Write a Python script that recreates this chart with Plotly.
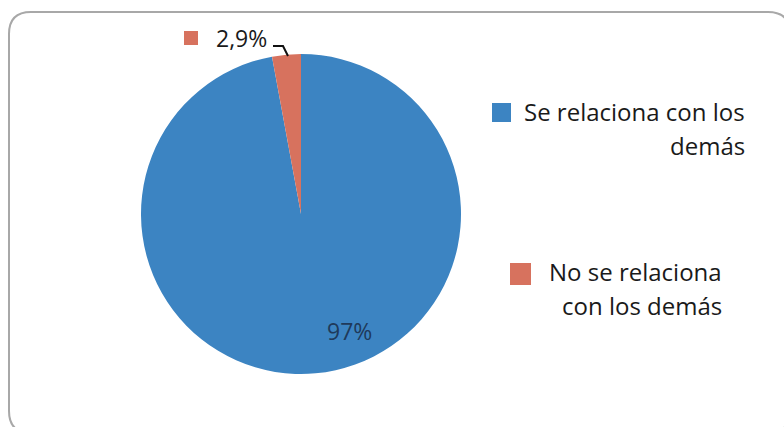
import plotly.graph_objects as go

W, H = 784, 427

categories = ["Se relaciona con los demás", "No se relaciona con los demás"]
values = [97.1, 2.9]
value_labels = ["97%", "2,9%"]
legend_lines = [["Se relaciona con los", "demás"], ["No se relaciona", "con los demás"]]
colors = ["#3C84C2", "#D7725E"]

def px(x):
    return x / W

def py(y):
    return 1 - y / H

FONT = "Open Sans"
TXT = "#1a1a1a"
FS_LEG = 24
FS_LAB = 23

fig = go.Figure()
fig.add_trace(go.Pie(
    labels=categories,
    values=values,
    marker=dict(colors=colors, line=dict(width=0)),
    sort=False,
    direction="clockwise",
    rotation=0,
    textinfo="none",
    hoverinfo="label+value",
    showlegend=False,
    domain=dict(x=[px(301 - 160), px(301 + 160)], y=[py(214 + 160), py(214 - 160)]),
))

annotations = [
    dict(x=px(349), y=py(331), text=value_labels[0], showarrow=False,
         font=dict(family=FONT, size=FS_LAB, color="#1f3a5a"), xanchor="center", yanchor="middle"),
    dict(x=px(269), y=py(38), text=value_labels[1], showarrow=False,
         font=dict(family=FONT, size=FS_LAB, color=TXT), xanchor="right", yanchor="middle"),
    dict(x=px(747), y=py(111), text=legend_lines[0][0], showarrow=False,
         font=dict(family=FONT, size=FS_LEG, color=TXT), xanchor="right", yanchor="middle"),
    dict(x=px(747), y=py(146), text=legend_lines[0][1], showarrow=False,
         font=dict(family=FONT, size=FS_LEG, color=TXT), xanchor="right", yanchor="middle"),
    dict(x=px(724), y=py(271), text=legend_lines[1][0], showarrow=False,
         font=dict(family=FONT, size=FS_LEG, color=TXT), xanchor="right", yanchor="middle"),
    dict(x=px(724), y=py(305), text=legend_lines[1][1], showarrow=False,
         font=dict(family=FONT, size=FS_LEG, color=TXT), xanchor="right", yanchor="middle"),
]

def rect(x0, y0, x1, y1, color):
    return dict(type="rect", xref="paper", yref="paper",
                x0=px(x0), x1=px(x1), y0=py(y1), y1=py(y0),
                fillcolor=color, line=dict(width=0))

def path_px(points):
    return "M " + " L ".join(f"{px(x):.5f},{py(y):.5f}" for x, y in points)

r = 22
x0b, y0b, x1b, y1b = 9, 12, 790, 433
border = (f"M {px(x0b)},{py(y0b + r)} "
          f"Q {px(x0b)},{py(y0b)} {px(x0b + r)},{py(y0b)} "
          f"L {px(x1b - r)},{py(y0b)} "
          f"Q {px(x1b)},{py(y0b)} {px(x1b)},{py(y0b + r)} "
          f"L {px(x1b)},{py(y1b - r)} "
          f"Q {px(x1b)},{py(y1b)} {px(x1b - r)},{py(y1b)} "
          f"L {px(x0b + r)},{py(y1b)} "
          f"Q {px(x0b)},{py(y1b)} {px(x0b)},{py(y1b - r)} Z")

shapes = [
    dict(type="path", xref="paper", yref="paper", path=border,
         line=dict(color="#a8a8a8", width=2), fillcolor="rgba(0,0,0,0)", layer="below"),
    rect(184, 31, 198, 45, colors[1]),
    rect(492, 103, 511, 122, colors[0]),
    rect(510, 263, 531, 285, colors[1]),
    dict(type="path", xref="paper", yref="paper",
         path=path_px([(273, 46), (283, 46), (288, 56)]),
         line=dict(color="#111111", width=2)),
]

fig.update_layout(
    width=W, height=H,
    margin=dict(l=0, r=0, t=0, b=0),
    paper_bgcolor="white",
    plot_bgcolor="white",
    annotations=annotations,
    shapes=shapes,
)

fig.write_html("out.html", config={"displayModeBar": False},
               post_script="document.body.style.margin='0';document.body.style.overflow='hidden';")
